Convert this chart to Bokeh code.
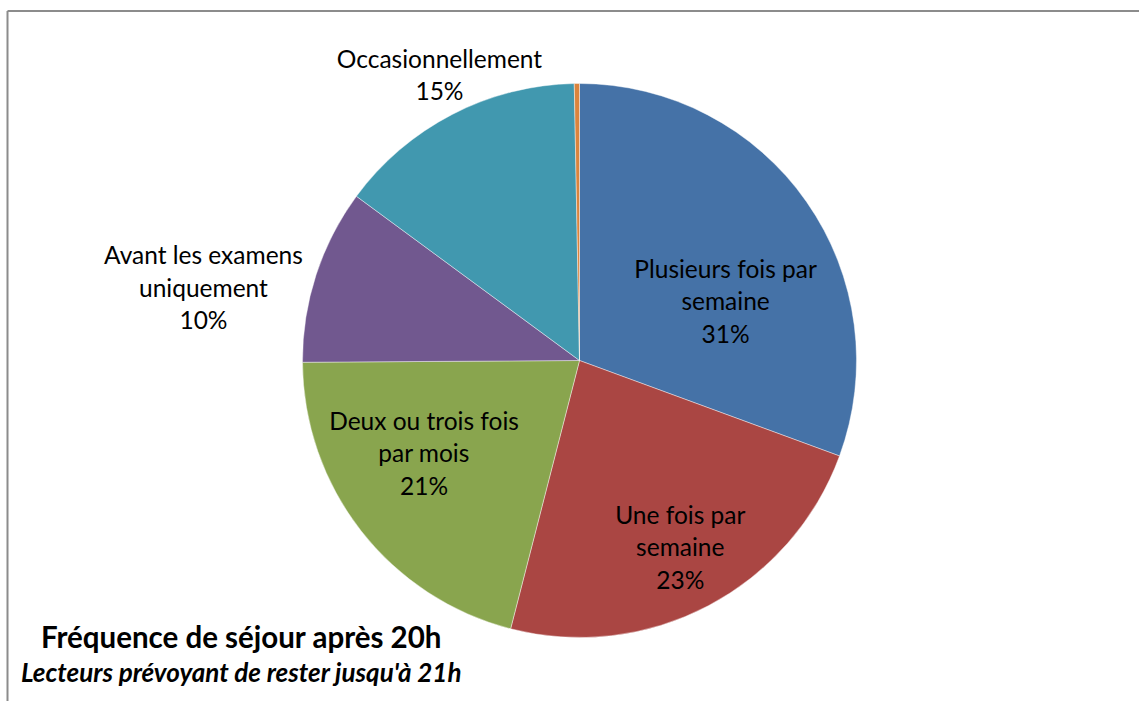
import math
from bokeh.plotting import figure
from bokeh.models import Range1d, ColumnDataSource
from bokeh.core.properties import value
from bokeh.embed import file_html
from bokeh.resources import INLINE

# ---- data ----
categories = [
    "Plusieurs fois par semaine",
    "Une fois par semaine",
    "Deux ou trois fois par mois",
    "Avant les examens uniquement",
    "Occasionnellement",
    "Jamais",
]
shares = [30.6, 23.4, 20.9, 10.2, 14.6, 0.3]
label_lines = [
    ["Plusieurs fois par", "semaine"],
    ["Une fois par", "semaine"],
    ["Deux ou trois fois", "par mois"],
    ["Avant les examens", "uniquement"],
    ["Occasionnellement"],
    None,
]
title_text = "Fréquence de séjour après 20h"
subtitle_text = "Lecteurs prévoyant de rester jusqu'à 21h"

# ---- style / layout ----
colors = ["#4572A7", "#AA4643", "#89A54E", "#71588F", "#4198AF", "#DB843D"]
W, H = 1139, 701
CX, CY, R = 579, H - 360, 277          # pie centre and radius (pixels)
# label anchor, in polar coords relative to pie: (radius fraction, degrees clockwise from top)
label_polar = [(0.570, 67.7), (0.765, 151.6), (0.653, 239.25), (1.383, 281.0), (1.149, 333.9), None]
LINE_H = 32.5
FONT = "Lato"

p = figure(width=W, height=H, output_backend="svg", toolbar_location=None,
           x_range=Range1d(0, W), y_range=Range1d(0, H), min_border=0)
p.axis.visible = False
p.grid.visible = False
p.outline_line_color = None
p.background_fill_color = "white"

total = sum(shares)
starts, ends = [], []
c = 0.0
for s in shares:
    starts.append(math.pi / 2 - 2 * math.pi * c / total)
    c += s
    ends.append(math.pi / 2 - 2 * math.pi * c / total)

src = ColumnDataSource(dict(x=[CX] * len(shares), y=[CY] * len(shares),
                            start=starts, end=ends, color=colors, cat=categories))
p.wedge(x="x", y="y", radius=R, start_angle="start", end_angle="end", direction="clock",
        fill_color="color", line_color="white", line_width=0.6, line_alpha=0.7, source=src)

# labels
tx, ty, tt = [], [], []
for lines, s, pol in zip(label_lines, shares, label_polar):
    if lines is None:
        continue
    allines = lines + [f"{round(s)}%"]
    fr, ang = pol
    ax = CX + fr * R * math.sin(math.radians(ang))
    ay = CY + fr * R * math.cos(math.radians(ang))
    n = len(allines)
    for i, t in enumerate(allines):
        tx.append(ax)
        ty.append(ay + (n - 1) / 2 * LINE_H - i * LINE_H)
        tt.append(t)
p.text(x=tx, y=ty, text=tt, text_align="center", text_baseline="middle",
       text_font=value(FONT), text_font_size="24.5px", text_color="black")

# title block
p.text(x=[241], y=[H - 636], text=[title_text], text_align="center", text_baseline="middle",
       text_font=value(FONT), text_font_size="29.5px", text_font_style="bold", text_color="black")
p.text(x=[241], y=[H - 671], text=[subtitle_text], text_align="center", text_baseline="middle",
       text_font=value(FONT), text_font_size="26px", text_font_style="bold italic", text_color="black")

# chart-area border (left and top edges visible)
p.segment(x0=[7, 7], y0=[0, H - 10.5], x1=[7, W], y1=[H - 10.5, H - 10.5],
          line_color="#8C8C8C", line_width=2)

open("out.html", "w").write(file_html(p, INLINE))
